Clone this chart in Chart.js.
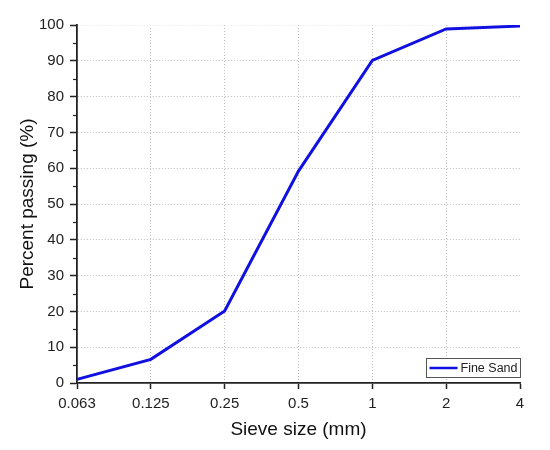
<!DOCTYPE html>
<html lang="en">
<head>
  <meta charset="UTF-8" />
  <title>Sieve analysis - Fine Sand</title>
  <script src="https://cdn.jsdelivr.net/npm/chart.js"></script>
  <style>
    body {
      margin: 0;
      background: #fff;
    }
    .container {
      width: 550px;
      height: 450px;
      position: relative;
    }
  </style>
</head>
<body>
  <div class="container">
    <canvas id="sieveChart"></canvas>
  </div>

  <script>
    const sieveSizes = ["0.063", "0.125", "0.25", "0.5", "1", "2", "4"];
    const passing = [1.0, 6.6, 20.1, 59.2, 90.1, 98.9, 99.7];
    const yTicks = [0, 10, 20, 30, 40, 50, 60, 70, 80, 90, 100];
    const yMinorTicks = [5, 15, 25, 35, 45, 55, 65, 75, 85, 95];
    const seriesLabel = "Fine Sand";

    const fontFamily = "'Liberation Sans', Arial, sans-serif";

    // minor ticks on y and the boxed legend in the lower right corner
    const extras = {
      id: "extras",
      afterDraw(chart) {
        const ctx = chart.ctx;
        const area = chart.chartArea;
        const y = chart.scales.y;
        ctx.save();
        ctx.strokeStyle = "#222";
        ctx.lineWidth = 1.2;
        yMinorTicks.forEach(v => {
          const py = Math.round(y.getPixelForValue(v)) + 0.5;
          ctx.beginPath();
          ctx.moveTo(area.left - 4, py);
          ctx.lineTo(area.left, py);
          ctx.stroke();
        });

        const ds = chart.data.datasets[0];
        const boxW = 94, boxH = 19;
        const bx = area.right - boxW + 0.5;
        const by = area.bottom - 24.5;
        ctx.fillStyle = "#fff";
        ctx.fillRect(bx, by, boxW, boxH);
        ctx.strokeStyle = "#555";
        ctx.lineWidth = 1;
        ctx.strokeRect(bx, by, boxW, boxH);
        ctx.strokeStyle = ds.borderColor;
        ctx.lineWidth = 2.5;
        ctx.beginPath();
        ctx.moveTo(bx + 3, by + boxH / 2);
        ctx.lineTo(bx + 31, by + boxH / 2);
        ctx.stroke();
        ctx.fillStyle = "#222";
        ctx.font = "12.5px " + fontFamily;
        ctx.textBaseline = "middle";
        ctx.fillText(ds.label, bx + 34, by + boxH / 2 + 0.5);
        ctx.restore();
      }
    };

    const ctx = document.getElementById("sieveChart").getContext("2d");
    new Chart(ctx, {
      type: "line",
      data: {
        labels: sieveSizes,
        datasets: [{
          label: seriesLabel,
          data: passing,
          borderColor: "#1010e0",
          borderWidth: 3,
          pointRadius: 0,
          tension: 0,
          fill: false
        }]
      },
      options: {
        responsive: true,
        maintainAspectRatio: false,
        animation: false,
        layout: { padding: { top: 25, right: 30, left: 0, bottom: 0 } },
        plugins: {
          legend: { display: false },
          tooltip: { enabled: false }
        },
        scales: {
          x: {
            type: "category",
            offset: false,
            afterFit: s => { s.height = 67; },
            grid: {
              color: c => (c.index === 0 || c.index === sieveSizes.length - 1) ? "rgba(0,0,0,0)" : "#bdbdbd",
              lineWidth: 1,
              tickColor: "#222",
              tickLength: 6,
              tickWidth: 1.5
            },
            border: { display: true, color: "#222", width: 1.8, dash: [1, 2] },
            ticks: {
              color: "#222",
              padding: 6,
              maxRotation: 0,
              font: { size: 15, family: fontFamily }
            },
            title: {
              display: true,
              text: "Sieve size (mm)",
              color: "#111",
              font: { size: 19, family: fontFamily },
              padding: { top: 0, bottom: 9 }
            }
          },
          y: {
            min: 0,
            max: 100,
            afterFit: s => { s.width = 77; },
            afterBuildTicks: s => { s.ticks = yTicks.map(v => ({ value: v })); },
            grid: {
              color: c => c.tick && c.tick.value === 0 ? "rgba(0,0,0,0)" : (c.tick && c.tick.value === 100 ? "#e6e6e6" : "#bdbdbd"),
              lineWidth: 1,
              tickColor: "#222",
              tickLength: 7,
              tickWidth: 1.5
            },
            border: { display: true, color: "#222", width: 1.8, dash: [1, 2] },
            ticks: {
              color: "#222",
              padding: 6,
              font: { size: 15, family: fontFamily }
            },
            title: {
              display: true,
              text: "Percent passing (%)",
              color: "#111",
              font: { size: 19, family: fontFamily },
              padding: { top: 16, bottom: 0 }
            }
          }
        }
      },
      plugins: [extras]
    });
  </script>
</body>
</html>
